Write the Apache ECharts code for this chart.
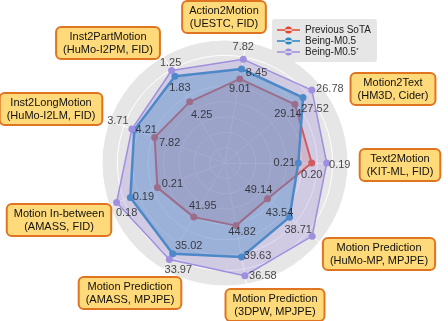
<!DOCTYPE html>
<html>
<head>
<meta charset="utf-8">
<script src="https://cdn.jsdelivr.net/npm/echarts@6/dist/echarts.min.js"></script>
<style>
  html, body { margin: 0; padding: 0; background: #fff; }
  #chart { width: 448px; height: 321px; }
</style>
</head>
<body>
<div id="chart"></div>
<script>
// axes, counter-clockwise from Action2Motion
const tasks = [
  'Action2Motion\n(UESTC, FID)',
  'Inst2PartMotion\n(HuMo-I2PM, FID)',
  'Inst2LongMotion\n(HuMo-I2LM, FID)',
  'Motion In-between\n(AMASS, FID)',
  'Motion Prediction\n(AMASS, MPJPE)',
  'Motion Prediction\n(3DPW, MPJPE)',
  'Motion Prediction\n(HuMo-MP, MPJPE)',
  'Text2Motion\n(KIT-ML, FID)',
  'Motion2Text\n(HM3D, Cider)'
]
const seriesNames = ['Previous SoTA', 'Being-M0.5', 'Being-M0.5*']

// normalised radius of each vertex
const sotaScores = [0.694, 0.574, 0.609, 0.585, 0.508, 0.517, 0.451, 0.705, 0.742]
const m05Scores = [0.776, 0.815, 0.785, 0.819, 0.851, 0.776, 0.685, 0.596, 0.828]
const m05plusScores = [0.856, 0.868, 0.806, 0.938, 0.905, 0.930, 0.925, 0.827, 0.922]

// metric values printed next to the vertices
const sotaLabels = ['9.01', '4.25', '7.82', '0.21', '41.95', '44.82', '49.14', '0.20', '29.14']
const m05Labels = ['8.45', '1.83', '4.21', '0.19', '35.02', '39.63', '43.54', '0.21', '27.52']
const m05plusLabels = ['7.82', '1.25', '3.71', '0.18', '33.97', '36.58', '38.71', '0.19', '26.78']

// label placement (px offsets from vertex) and task box centres
const sotaOffsets = [[0, 10], [12, 13], [15, 6], [15, -4], [9, -11], [6, 6], [-9, -9], [0, 12], [-7, 10]]
const m05Offsets = [[15, 4], [5, 12], [12, 0], [13, 0], [16, -8], [16, -1], [-10, -4], [-14, 0], [12, 11]]
const m05plusOffsets = [[0, -12], [-1, -8], [-14, -8], [10, 11], [9, 11], [18, 0], [-14, -6], [13, 2], [18, -1]]
const boxCenters = [[224, 17], [108, 43], [51, 109], [59, 220], [130, 293], [275, 305], [379, 254], [400, 165], [393, 89]]

const colors = ['#E6452F', '#2A86BF', '#A08FDE']
const FONT = '"Liberation Sans", Arial, sans-serif'
const CENTER = [225, 163]
const RADIUS = 123

const legendIcon = 'path://M0,2.7 L23,2.7 L23,4.3 L0,4.3 Z M8,3.5 A3.5,3.5 0 1,0 15,3.5 A3.5,3.5 0 1,0 8,3.5 Z'

const radarSeries = (idx, scores, lineWidth, areaOpacity) => ({
  type: 'radar',
  name: seriesNames[idx],
  z: 2 + idx,
  symbol: 'circle',
  symbolSize: 7,
  itemStyle: { color: colors[idx] },
  lineStyle: { color: colors[idx], width: lineWidth },
  areaStyle: { color: colors[idx], opacity: areaOpacity },
  data: [{ name: seriesNames[idx], value: scores }]
})

const labelSeries = (scores, labels, offsets) => ({
  type: 'scatter',
  coordinateSystem: 'polar',
  symbolSize: 0,
  z: 10,
  silent: true,
  label: {
    show: true,
    position: 'inside',
    fontFamily: FONT,
    fontSize: 11,
    color: '#1a1a1a'
  },
  data: scores.map((s, i) => ({
    value: [s, i],
    label: { offset: offsets[i], formatter: labels[i] }
  }))
})

const chart = echarts.init(document.getElementById('chart'))

chart.setOption({
  animation: false,
  backgroundColor: '#fff',
  legend: {
    data: seriesNames,
    orient: 'vertical',
    left: 272,
    top: 19,
    itemWidth: 23,
    itemHeight: 7,
    itemGap: 1,
    padding: [6, 6, 5, 5],
    backgroundColor: '#e6e6e6',
    borderRadius: 3,
    icon: legendIcon,
    textStyle: {
      fontFamily: FONT,
      fontSize: 10,
      color: '#222',
      rich: { s: { fontSize: 6, verticalAlign: 'top', fontFamily: FONT, color: '#222' } }
    },
    formatter: (name) => name.endsWith('*') ? name.slice(0, -1) + '{s|*}' : name
  },
  radar: {
    center: CENTER,
    radius: RADIUS,
    startAngle: 80,
    splitNumber: 8,
    shape: 'circle',
    indicator: tasks.map(t => ({ name: t, min: 0, max: 1 })),
    axisName: { show: false },
    axisLine: { lineStyle: { color: '#ffffff', width: 1 } },
    splitLine: { lineStyle: { color: '#ffffff', width: 1 } },
    splitArea: { areaStyle: { color: ['#e6e6e6'] } }
  },
  polar: { center: CENTER, radius: RADIUS },
  angleAxis: { type: 'value', min: 0, max: 9, startAngle: 80, clockwise: false, show: false },
  radiusAxis: { type: 'value', min: 0, max: 1, show: false },
  series: [
    radarSeries(2, m05plusScores, 1.5, 0.3),
    radarSeries(1, m05Scores, 2.5, 0.4),
    radarSeries(0, sotaScores, 2, 0.2),
    labelSeries(m05plusScores, m05plusLabels, m05plusOffsets),
    labelSeries(m05Scores, m05Labels, m05Offsets),
    labelSeries(sotaScores, sotaLabels, sotaOffsets)
  ],
  graphic: tasks.map((t, i) => ({
    type: 'text',
    x: boxCenters[i][0],
    y: boxCenters[i][1],
    z: 100,
    silent: true,
    style: {
      text: t,
      fontFamily: FONT,
      fontSize: 11,
      lineHeight: 13,
      fill: '#111',
      align: 'center',
      verticalAlign: 'middle',
      backgroundColor: '#FFDA7A',
      borderColor: '#E07420',
      borderWidth: 2,
      borderRadius: 4,
      padding: [2, 6]
    }
  }))
})

window.addEventListener('resize', () => chart.resize())
</script>
</body>
</html>
